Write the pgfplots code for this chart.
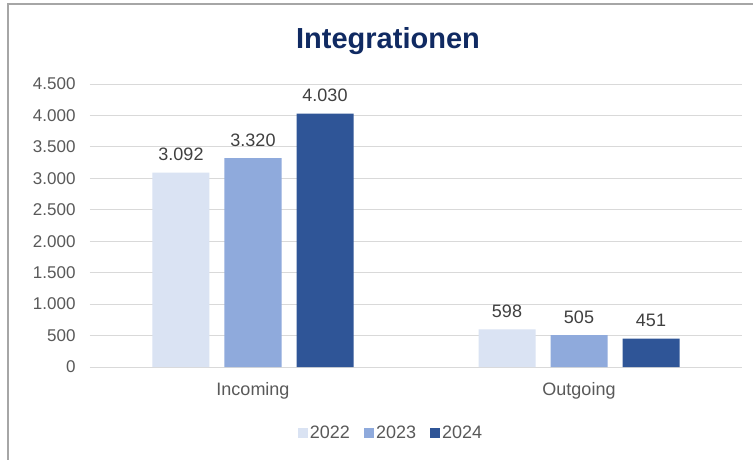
\documentclass[border=0pt]{standalone}
\usepackage{pgfplots}
\pgfplotsset{compat=1.18}
\usepackage{fontspec}
\setmainfont{Liberation Sans}

\definecolor{cA}{HTML}{DAE3F3}
\definecolor{cB}{HTML}{8FAADC}
\definecolor{cC}{HTML}{2F5597}
\definecolor{titleblue}{HTML}{102A62}
\definecolor{gridgray}{HTML}{D9D9D9}
\definecolor{ticktext}{HTML}{595959}
\definecolor{labeltext}{HTML}{404040}
\definecolor{framegray}{HTML}{A6A6A6}

\begin{document}
\begin{tikzpicture}
	% image is 753x459, the axis origin sits at pixel (90,367)
	\useasboundingbox (-90pt,-92pt) rectangle (663pt,367pt);
	\fill[white] (-90pt,-92pt) rectangle (663pt,367pt);
	\draw[framegray, line width=2pt] (-82pt,-95pt) -- (-82pt,363pt) -- (670pt,363pt);
	\node[font=\fontsize{29}{32}\selectfont\bfseries, text=titleblue, anchor=base, inner sep=0pt] at (298pt,319pt) {Integrationen};

	\begin{axis}[
		scale only axis,
		width=652pt, height=283pt,
		ybar,
		bar width=57pt,
		xmin=-0.5, xmax=1.5,
		ymin=0, ymax=4500,
		ytick={0,500,...,4500},
		xtick={0,1},
		xticklabels={Incoming,Outgoing},
		major tick length=0pt,
		axis line style={draw=none},
		ymajorgrids=true,
		grid style={gridgray, line width=1pt},
		/pgf/number format/assume math mode=true,
		/pgf/number format/1000 sep={.},
		yticklabel style={font=\fontsize{17}{19}\selectfont, text=ticktext, xshift=-11pt},
		xticklabel style={font=\fontsize{18}{20}\selectfont, text=ticktext, yshift=-12pt},
		nodes near coords,
		nodes near coords style={font=\fontsize{18}{20}\selectfont, text=labeltext, yshift=8pt,
			/pgf/number format/1000 sep={.}, /pgf/number format/fixed},
		legend style={at={(0.4617,-66pt)}, anchor=center, draw=none,
			legend columns=3, font=\fontsize{18}{20}\selectfont, text=ticktext,
			/tikz/every even column/.append style={column sep=12pt}},
		legend image code/.code={\fill[#1] (0pt,-5pt) rectangle (10pt,5pt);},
	]
	\addplot[fill=cA, draw=none, bar shift=-72pt] coordinates {(0,3092) (1,598)};
	\addlegendentry{2022}
	\addplot[fill=cB, draw=none, bar shift=0pt] coordinates {(0,3320) (1,505)};
	\addlegendentry{2023}
	\addplot[fill=cC, draw=none, bar shift=72pt] coordinates {(0,4030) (1,451)};
	\addlegendentry{2024}
	\end{axis}
\end{tikzpicture}
\end{document}
